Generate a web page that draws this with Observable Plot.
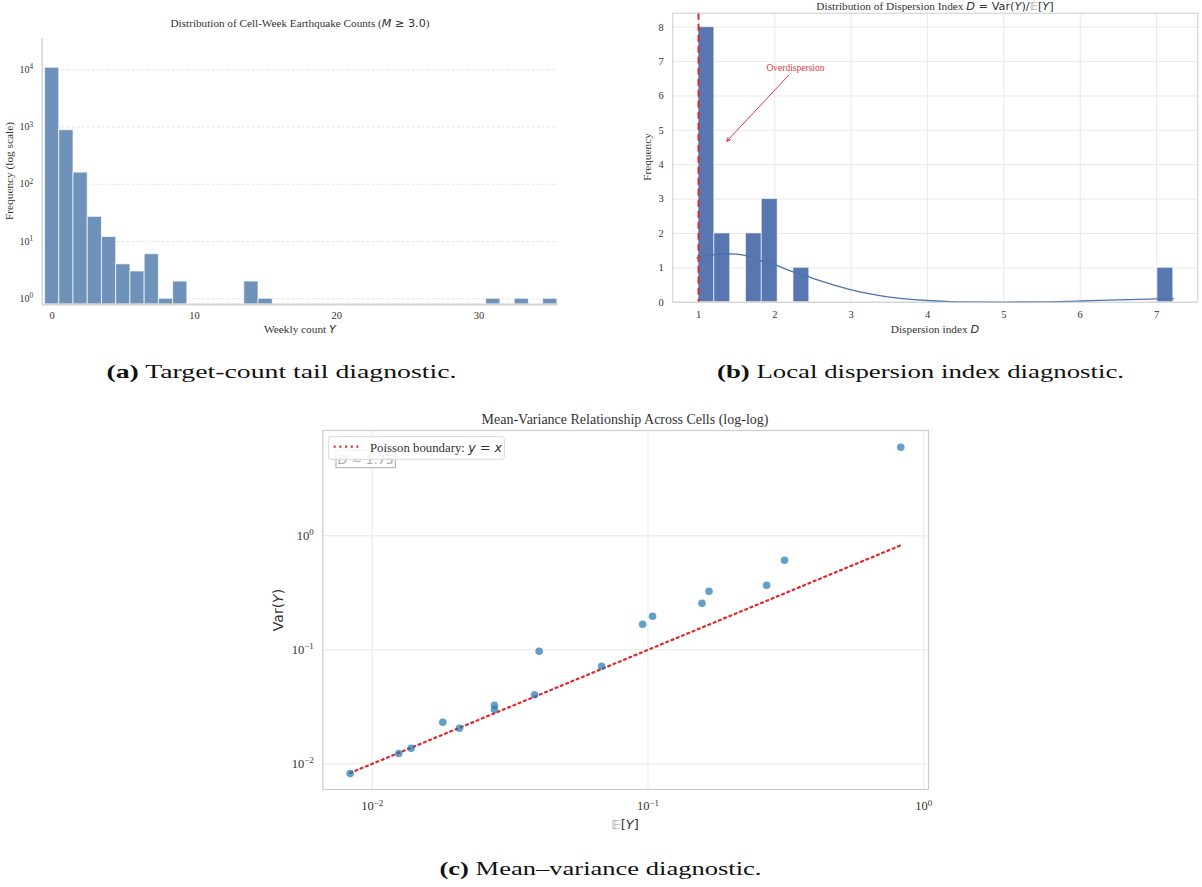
<!DOCTYPE html>
<html><head><meta charset="utf-8">
<script src="https://cdn.jsdelivr.net/npm/d3@7"></script>
<script src="https://cdn.jsdelivr.net/npm/@observablehq/plot@0.6"></script>
<style>
html,body{margin:0;padding:0;background:#fff;}
#root{position:relative;width:1202px;height:887px;overflow:hidden;background:#fff;}
.panel{position:absolute;}
.panel svg{display:block;}
</style></head><body><div id="root"></div>
<script>
// ---------------- Panel (a): weekly count histogram ----------------
const weeklyCount = [0, 1, 2, 3, 4, 5, 6, 7, 8, 9, 14, 15, 31, 33, 35];
const countFreq   = [10850, 880, 160, 27, 12, 4, 3, 6, 1, 2, 2, 1, 1, 1, 1];
const countTicks  = [0, 10, 20, 30];
const freqTicks   = [1, 10, 100, 1000, 10000];

// ---------------- Panel (b): dispersion index histogram ----------------
const dispBinLo = [1.000, 1.207, 1.622, 1.829, 2.244, 7.012];
const dispBinHi = [1.207, 1.415, 1.829, 2.037, 2.451, 7.220];
const dispFreq  = [8, 2, 2, 3, 1, 1];
const kdeD = [0.98, 1.10, 1.20, 1.35, 1.50, 1.65, 1.80, 2.00, 2.20, 2.40, 2.60, 2.80, 3.00, 3.25, 3.50, 3.75, 4.00, 4.25, 4.50, 5.00, 5.50, 6.00, 6.50, 7.00, 7.22];
const kdeY = [1.29, 1.35, 1.38, 1.41, 1.40, 1.34, 1.22, 1.09, 0.91, 0.77, 0.62, 0.48, 0.36, 0.24, 0.15, 0.09, 0.05, 0.025, 0.01, 0.003, 0.01, 0.035, 0.07, 0.095, 0.10];
const dispTicksX = [1, 2, 3, 4, 5, 6, 7];
const dispTicksY = [0, 1, 2, 3, 4, 5, 6, 7, 8];
const poissonD = [1];
const annotLabel = ["Overdispersion"];
const annotTextXY = [2.27, 6.81];
const annotFromXY = [2.18, 6.60];
const annotToXY   = [1.37, 4.68];

// ---------------- Panel (c): mean-variance ----------------
const cellMean = [0.00832, 0.01249, 0.01384, 0.01803, 0.02072, 0.02776, 0.02776, 0.03879, 0.04031, 0.0679, 0.0956, 0.1039, 0.1569, 0.1664, 0.2692, 0.3126, 0.8251];
const cellVar  = [0.00822, 0.01231, 0.01371, 0.02317, 0.02052, 0.03266, 0.02995, 0.04029, 0.0972, 0.0718, 0.1677, 0.1971, 0.2564, 0.3266, 0.3686, 0.6109, 5.985];
const decadeTicks = [0.01, 0.1, 1];
const meanDispersion = 1.75;

// ---------------- helpers ----------------
const SERIF = "'Liberation Serif','Times New Roman',serif";
const SANS = "'DejaVu Sans',sans-serif";
const pow10 = v => "10^" + Math.round(Math.log10(v));

// turn "10^n" tick labels into 10 with a raised exponent
function supTicks(svg) {
  d3.select(svg).selectAll("text").each(function() {
    const s = this.textContent;
    const m = /^10\^(-?\d+)$/.exec(s);
    if (!m) return;
    const el = d3.select(this);
    el.text(null);
    el.append("tspan").text("10");
    el.append("tspan").attr("dy", "-0.5em").attr("font-size", "0.72em").text(m[1].replace("-", "\u2212"));
  });
}

function txt(svg, o, parts) {
  const t = d3.select(svg).append("text")
    .attr("x", o.x).attr("y", o.y)
    .attr("text-anchor", o.anchor || "middle")
    .attr("font-size", o.size)
    .attr("font-family", o.family || SERIF)
    .attr("fill", o.fill || "#333");
  if (o.rotate) t.attr("transform", `rotate(${o.rotate},${o.x},${o.y})`);
  for (const p of parts) {
    if (typeof p === "string") { t.append("tspan").text(p); continue; }
    const s = t.append("tspan").text(p.t);
    if (p.i) s.attr("font-style", "italic");
    if (p.f) s.attr("font-family", p.f);
    if (p.fill) s.attr("fill", p.fill);
  }
  return t;
}
function place(svg, left, top, w) {
  const div = document.createElement("div");
  div.className = "panel";
  div.style.left = left + "px"; div.style.top = top + "px"; div.style.width = w + "px";
  div.appendChild(svg);
  document.getElementById("root").appendChild(div);
}

// ================= Panel (a) =================
const dataA = weeklyCount.map((k, i) => ({k, f: countFreq[i]}));
const xDomA = [-0.7, 35.56], yDomA = [0.795, 34740];
const svgA = Plot.plot({
  width: 570, height: 340,
  marginLeft: 41.7, marginRight: 12.3, marginTop: 38.3, marginBottom: 36,
  style: {fontFamily: SERIF, fontSize: "10.5px", color: "#333", background: "transparent", overflow: "visible"},
  x: {domain: xDomA, label: null},
  y: {type: "log", domain: yDomA, label: null},
  marks: [
    Plot.gridY(freqTicks, {stroke: "#e4e4e4", strokeOpacity: 1, strokeDasharray: "3,2"}),
    Plot.rect(dataA, {x1: d => d.k - 0.5, x2: d => d.k + 0.5, y1: () => yDomA[0], y2: "f",
      fill: "#6f92ba", stroke: "#ffffff", strokeWidth: 1, strokeOpacity: 0.7}),
    Plot.ruleX([xDomA[0]], {stroke: "#d4d4d4", strokeWidth: 1.5}),
    Plot.ruleY([yDomA[0]], {stroke: "#d4d4d4", strokeWidth: 2}),
    Plot.axisX(countTicks, {tickSize: 0, tickPadding: 7, label: null, fontSize: 10.5}),
    Plot.axisY(freqTicks, {tickSize: 0, tickPadding: 9, tickFormat: pow10, label: null, fontSize: 10})
  ]
});
supTicks(svgA);
txt(svgA, {x: 300, y: 27, size: 11.2}, ["Distribution of Cell-Week Earthquake Counts (", {t: "M", i: 1, f: SANS}, {t: " \u2265 3.0", f: SANS}, ")"]);
txt(svgA, {x: 300, y: 333, size: 11.3}, ["Weekly count ", {t: "Y", i: 1, f: SANS}]);
txt(svgA, {x: 13, y: 171, size: 11.3, rotate: -90}, ["Frequency (log scale)"]);
place(svgA, 0, 0, 570);

// ================= Panel (b) =================
const dataB = dispFreq.map((f, i) => ({lo: dispBinLo[i], hi: dispBinHi[i], f}));
const kdeData = kdeD.map((d, i) => ({d, y: kdeY[i]}));
const svgB = Plot.plot({
  width: 572, height: 340,
  marginLeft: 42.3, marginRight: 4.7, marginTop: 12.7, marginBottom: 38.3,
  style: {fontFamily: SERIF, fontSize: "10.5px", color: "#333", background: "transparent", overflow: "visible"},
  x: {domain: [0.663, 7.541], label: null},
  y: {domain: [0, 8.407], label: null},
  marks: [
    Plot.gridX(dispTicksX, {stroke: "#e9e9e9", strokeOpacity: 1}),
    Plot.gridY(dispTicksY, {stroke: "#e9e9e9", strokeOpacity: 1}),
    Plot.rect(dataB, {x1: "lo", x2: "hi", y1: 0, y2: "f", fill: "#5877b1", stroke: "#ffffff", strokeWidth: 1, strokeOpacity: 0.6}),
    Plot.line(kdeData, {x: "d", y: "y", stroke: "#4c72b0", strokeWidth: 1.3, curve: "monotone-x"}),
    Plot.ruleX(poissonD, {stroke: "#d92a2e", strokeWidth: 2, strokeDasharray: "7,4"}),
    Plot.arrow(annotLabel, {x1: () => annotFromXY[0], y1: () => annotFromXY[1], x2: () => annotToXY[0], y2: () => annotToXY[1],
      stroke: "#e0393e", strokeWidth: 1, headLength: 6, headAngle: 50}),
    Plot.text(annotLabel, {x: () => annotTextXY[0], y: () => annotTextXY[1], text: d => d, fill: "#e0393e", fontSize: 9.5, fontFamily: SERIF}),
    Plot.frame({stroke: "#cccccc", strokeWidth: 1}),
    Plot.axisX(dispTicksX, {tickSize: 0, tickPadding: 8, label: null, fontSize: 10.5}),
    Plot.axisY(dispTicksY, {tickSize: 0, tickPadding: 9, label: null, fontSize: 10.5})
  ]
});
txt(svgB, {x: 305, y: 10, size: 11.3}, ["Distribution of Dispersion Index ", {t: "D", i: 1, f: SANS}, {t: " = Var(", f: SANS}, {t: "Y", i: 1, f: SANS}, {t: ")/", f: SANS}, {t: "\uD835\uDD3C", f: SANS, fill: "#999"}, {t: "[", f: SANS}, {t: "Y", i: 1, f: SANS}, {t: "]", f: SANS}]);
txt(svgB, {x: 305, y: 333, size: 11.3}, ["Dispersion index ", {t: "D", i: 1, f: SANS}]);
txt(svgB, {x: 21, y: 157, size: 11.3, rotate: -90}, ["Frequency"]);
place(svgB, 630, 0, 572);

// ================= Panel (c) =================
const dataC = cellMean.map((m, i) => ({m, v: cellVar[i]}));
const ext = d3.extent(cellMean);
const boundary = ext.map(m => ({m, v: m}));
const svgC = Plot.plot({
  width: 700, height: 440,
  marginLeft: 82.3, marginRight: 12, marginTop: 30, marginBottom: 51,
  style: {fontFamily: SERIF, fontSize: "12px", color: "#333", background: "transparent", overflow: "visible"},
  x: {type: "log", domain: [0.006622, 1.0399], label: null},
  y: {type: "log", domain: [0.005957, 8.395], label: null},
  marks: [
    Plot.gridX(decadeTicks, {stroke: "#e8e8e8", strokeOpacity: 1}),
    Plot.gridY(decadeTicks, {stroke: "#e8e8e8", strokeOpacity: 1}),
    Plot.line(boundary, {x: "m", y: "v", stroke: "#e3262b", strokeWidth: 2.2, strokeDasharray: "2,3.7"}),
    Plot.dot(dataC, {x: "m", y: "v", r: 3.8, fill: "#1f77b4", fillOpacity: 0.7, stroke: "none"}),
    Plot.frame({stroke: "#cccccc", strokeWidth: 1.2}),
    Plot.axisX(decadeTicks, {tickSize: 0, tickPadding: 12, tickFormat: pow10, label: null, fontSize: 12.5}),
    Plot.axisY(decadeTicks, {tickSize: 0, tickPadding: 9, tickFormat: pow10, label: null, fontSize: 12.5})
  ]
});
supTicks(svgC);
txt(svgC, {x: 385, y: 24, size: 14}, ["Mean-Variance Relationship Across Cells (log-log)"]);
txt(svgC, {x: 385, y: 429, size: 13, family: SANS}, [{t: "\uD835\uDD3C", fill: "#999"}, "[", {t: "Y", i: 1}, "]"]);
txt(svgC, {x: 42.5, y: 210, size: 14, family: SANS, rotate: -90}, ["Var(", {t: "Y", i: 1}, ")"]);
// mean dispersion box (partly hidden beneath the legend)
{
  const g = d3.select(svgC).append("g");
  g.append("rect").attr("x", 96).attr("y", 50).attr("width", 59.3).attr("height", 17.7)
    .attr("fill", "#fff").attr("fill-opacity", 0.8).attr("stroke", "#aaaaaa").attr("stroke-width", 1);
  txt(svgC, {x: 125.7, y: 63.5, size: 12.5, family: SANS, fill: "#aaaaaa"}, [{t: "D", i: 1}, " \u2248 " + meanDispersion.toFixed(2)]);
  const lg = d3.select(svgC).append("g");
  lg.append("rect").attr("x", 88.3).attr("y", 36.7).attr("width", 176).attr("height", 22.6).attr("rx", 2.5)
    .attr("fill", "#fff").attr("fill-opacity", 0.8).attr("stroke", "#d8d8d8").attr("stroke-width", 1);
  lg.append("line").attr("x1", 93.7).attr("x2", 119).attr("y1", 46.7).attr("y2", 46.7)
    .attr("stroke", "#e3262b").attr("stroke-width", 2.2).attr("stroke-dasharray", "2,3.7");
  txt(svgC, {x: 130, y: 51.7, size: 12.8, anchor: "start"}, ["Poisson boundary: ", {t: "y", i: 1, f: SANS}, {t: " = ", f: SANS}, {t: "x", i: 1, f: SANS}]);
}
place(svgC, 240, 400, 700);

// ================= Captions =================
const capSvg = d3.select("#root").append("svg")
  .attr("width", 1202).attr("height", 887)
  .style("position", "absolute").style("left", "0px").style("top", "0px").style("pointer-events", "none");
function caption(x, y, len, label, rest) {
  const t = capSvg.append("text").attr("x", x).attr("y", y).attr("font-family", SERIF).attr("font-size", 19.5)
    .attr("fill", "#111").attr("textLength", len).attr("lengthAdjust", "spacingAndGlyphs");
  t.append("tspan").attr("font-weight", "bold").text(label);
  t.append("tspan").text(rest);
}
caption(106.5, 378, 350, "(a)", " Target-count tail diagnostic.");
caption(717, 378, 407, "(b)", " Local dispersion index diagnostic.");
caption(439.5, 875.3, 322, "(c)", " Mean\u2013variance diagnostic.");
</script></body></html>
